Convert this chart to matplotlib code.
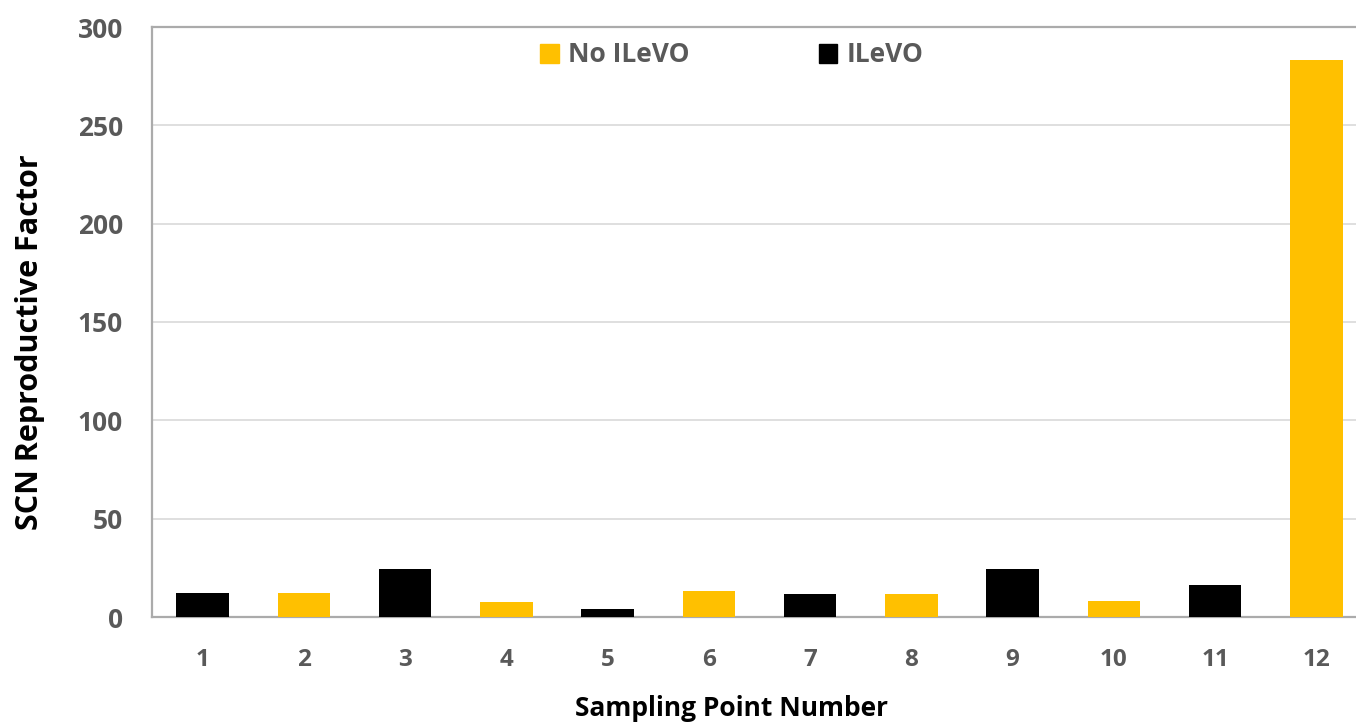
import numpy as np
import matplotlib.pyplot as plt
from matplotlib.patches import Patch

# sampling points and reproductive factor values
points = [str(i) for i in range(1, 13)]
values = [12.4, 12.3, 24.3, 7.6, 4.3, 13.4, 11.6, 11.5, 24.3, 8.0, 16.1, 283.0]
treatment = ['ILeVO', 'No ILeVO', 'ILeVO', 'No ILeVO', 'ILeVO', 'No ILeVO',
             'ILeVO', 'No ILeVO', 'ILeVO', 'No ILeVO', 'ILeVO', 'No ILeVO']
colours = {'No ILeVO': '#FFC000', 'ILeVO': '#000000'}

plt.rcParams['font.family'] = ['Open Sans', 'DejaVu Sans']

fig = plt.figure(figsize=(13.56, 7.23), dpi=100)
# right edge runs past the figure like the cropped original
ax = fig.add_axes([152 / 1356, 1 - 617 / 723, 1215 / 1356, 590 / 723])

x = np.arange(1, len(points) + 1)
ax.bar(x, values, width=0.52, color=[colours[t] for t in treatment], zorder=3)

ax.set_xlim(0.5, 12.5)
ax.set_ylim(0, 300)
ax.set_yticks(range(0, 301, 50))
ax.set_xticks(x)
ax.set_xticklabels(points)
ax.grid(axis='y', color='#D9D9D9', linewidth=1.2, zorder=0)
ax.spines['right'].set_visible(False)
for s in ['left', 'bottom', 'top']:
    ax.spines[s].set_color('#ABABAB')
    ax.spines[s].set_linewidth(1.6)
ax.tick_params(axis='x', length=0, labelsize=17.5, labelcolor='#595959', pad=22)
ax.tick_params(axis='y', length=0, labelsize=19, labelcolor='#595959', pad=21)
for lab in ax.get_xticklabels() + ax.get_yticklabels():
    lab.set_fontweight('bold')

fig.text(732 / 1356, 1 - 708 / 723, 'Sampling Point Number', ha='center',
         va='center', fontsize=19, fontweight='bold')
fig.text(30 / 1356, 1 - 342 / 723, 'SCN Reproductive Factor', ha='center',
         va='center', rotation=90, fontsize=22, fontweight='bold')

handles = [Patch(color=colours['No ILeVO'], label='No ILeVO'),
           Patch(color=colours['ILeVO'], label='ILeVO')]
leg = fig.legend(handles=handles, loc='center', ncol=2,
                 bbox_to_anchor=(732 / 1356, 1 - 55 / 723), frameon=False,
                 handlelength=0.7, handleheight=0.7, handletextpad=0.35,
                 columnspacing=4.9, prop={'size': 19, 'weight': 'bold'})
for t in leg.get_texts():
    t.set_color('#595959')

fig.savefig('out.png', dpi=100)
